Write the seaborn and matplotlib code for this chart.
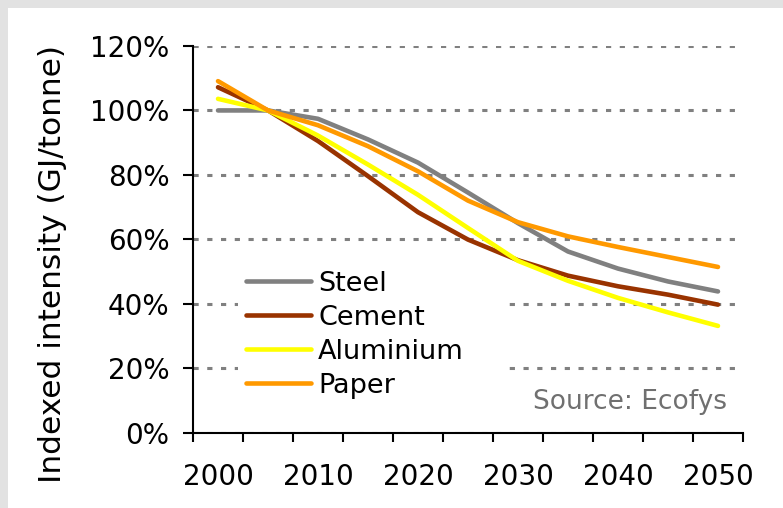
import numpy as np
import pandas as pd
import matplotlib
matplotlib.use("Agg")
import matplotlib.pyplot as plt
from matplotlib.ticker import PercentFormatter, MultipleLocator, FixedLocator
from matplotlib.patches import Rectangle
import seaborn as sns

# data (index, % of 2005)
years = [2000, 2005, 2010, 2015, 2020, 2025, 2030, 2035, 2040, 2045, 2050]
steel = [100.0, 100.0, 97.4, 91.0, 83.8, 74.5, 65.0, 56.2, 50.9, 46.9, 43.8]
cement = [107.2, 100.0, 90.5, 79.6, 68.4, 59.9, 53.5, 48.7, 45.4, 42.8, 39.7]
aluminium = [103.6, 100.0, 92.2, 83.2, 73.8, 63.5, 53.3, 47.1, 41.8, 37.3, 33.1]
paper = [109.1, 100.0, 95.4, 88.9, 81.1, 72.0, 65.3, 60.9, 57.6, 54.5, 51.4]

materials = ["Steel", "Cement", "Aluminium", "Paper"]
colors = ["#808080", "#993300", "#FFFF00", "#FF9900"]

df = pd.DataFrame({
    "year": years * 4,
    "value": steel + cement + aluminium + paper,
    "material": sum([[m] * len(years) for m in materials], []),
})

sns.set_theme(style="white")
plt.rcParams["font.family"] = ["DejaVu Sans"]
plt.rcParams["text.color"] = "black"

fig = plt.figure(figsize=(7.83, 5.08), dpi=100)
fig.patch.set_facecolor("#e2e2e2")
fig.add_artist(Rectangle((8 / 783, 0), 1, 1 - 8 / 508, transform=fig.transFigure,
                         facecolor="white", edgecolor="none", zorder=-10))

ax = fig.add_axes([0.2465, 0.1486, 0.7024, 0.7608])
ax.set_facecolor("white")

sns.lineplot(data=df, x="year", y="value", hue="material", hue_order=materials,
             palette=colors, linewidth=3.3, ax=ax, zorder=3)
for line in ax.get_lines():
    line.set_linewidth(3.3)
    line.set_solid_joinstyle("round")

ax.set_xlim(1997.5, 2052.5)
ax.set_ylim(0, 120)

# gridlines
ax.set_axisbelow(True)
ax.yaxis.grid(True, color="#808080", linestyle=(0, (1.7, 2.8)), linewidth=2.2)
ax.xaxis.grid(False)

# spines
sns.despine(ax=ax)
for side in ["left", "bottom"]:
    ax.spines[side].set_color("black")
    ax.spines[side].set_linewidth(1.5)

# y axis
ax.yaxis.set_major_locator(MultipleLocator(20))
ax.yaxis.set_major_formatter(PercentFormatter(decimals=0))
ax.tick_params(axis="y", which="major", direction="out", length=7, width=1.5,
               color="black", labelcolor="black", labelsize=20, pad=10, left=True)

# x axis: labels centred on categories, tick marks between them
ax.xaxis.set_major_locator(FixedLocator([2000, 2010, 2020, 2030, 2040, 2050]))
ax.xaxis.set_minor_locator(FixedLocator(list(np.arange(1997.5, 2053, 5))))
ax.tick_params(axis="x", which="major", length=0, labelsize=20, pad=22,
               labelcolor="black", bottom=True)
ax.tick_params(axis="x", which="minor", direction="out", length=6.5, width=1.5,
               color="black", bottom=True)

ax.set_xlabel("")
ax.set_ylabel("Indexed intensity (GJ/tonne)", fontsize=22.5, color="black")
ax.yaxis.set_label_coords(-0.229, 0.436)

handles, labels = ax.get_legend_handles_labels()
leg = ax.legend(handles, labels, loc="upper left", bbox_to_anchor=(0.082, 0.34, 0.48, 0.1),
                mode="expand", fontsize=19.5, frameon=True, facecolor="white",
                edgecolor="none", framealpha=1, handlelength=2.4, handletextpad=0.26,
                labelspacing=0.3, borderpad=0.3, borderaxespad=0)
for line in leg.get_lines():
    line.set_linewidth(3.3)

ax.text(0.971, 0.079, "Source: Ecofys", transform=ax.transAxes, ha="right", va="center",
        fontsize=19, color="#707070")

fig.savefig("out.png", dpi=100)
